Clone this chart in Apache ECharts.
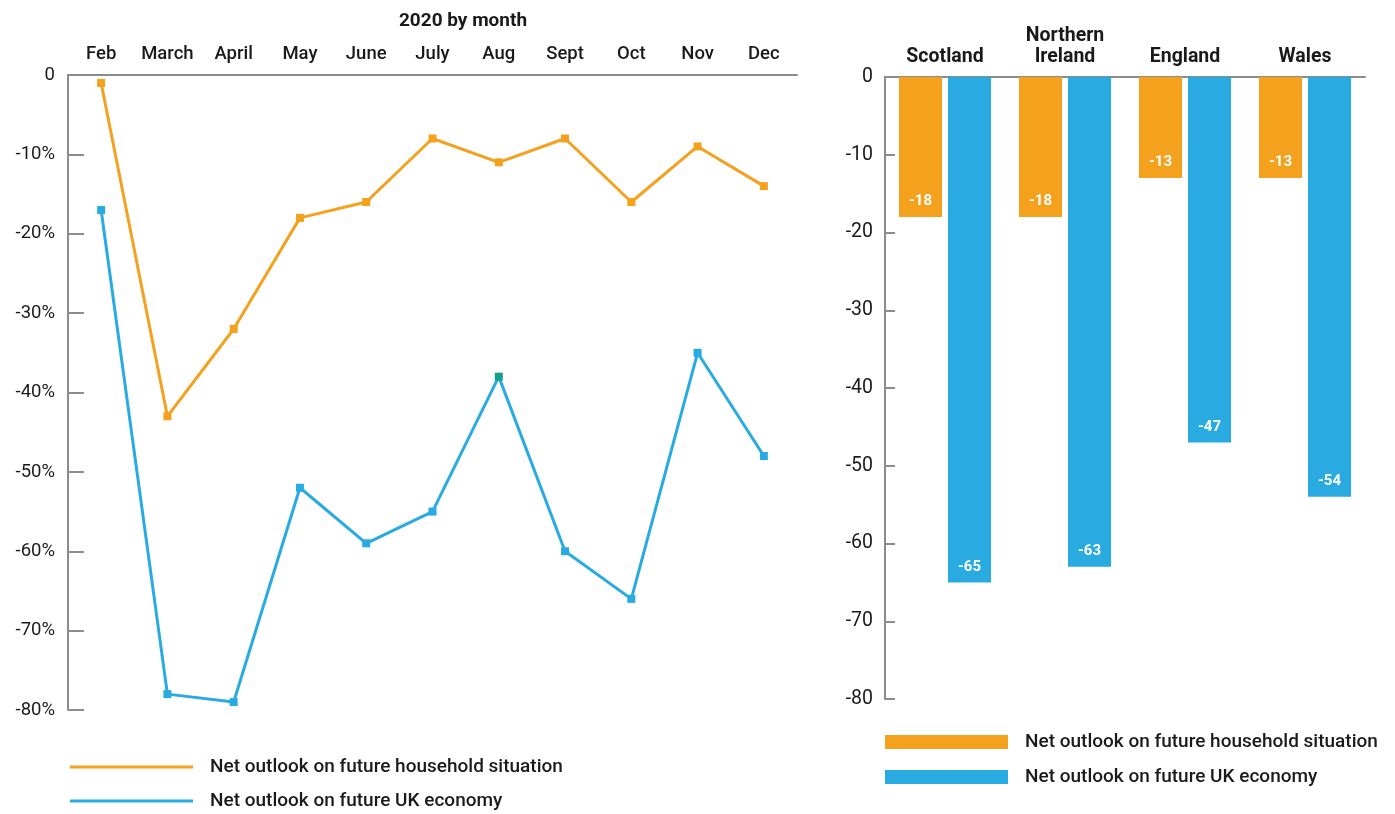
<!DOCTYPE html>
<html><head><meta charset="utf-8">
<script src="https://cdn.jsdelivr.net/npm/echarts@6/dist/echarts.min.js"></script>
<style>html,body{margin:0;padding:0;background:#fff}#c{width:1395px;height:814px}</style>
</head><body><div id="c"></div>
<script>
const months = ['Feb','March','April','May','June','July','Aug','Sept','Oct','Nov','Dec'];
const household = [-1,-43,-32,-18,-16,-8,-11,-8,-16,-9,-14];
const economy = [-17,-78,-79,-52,-59,-55,-38,-60,-66,-35,-48];
const nations = ['Scotland','Northern\nIreland','England','Wales'];
const nationHousehold = [-18,-18,-13,-13];
const nationEconomy = [-65,-63,-47,-54];
const legendNames = {
  hhLine:'Net outlook on future household situation', ecLine:'Net outlook on future UK economy',
  hhBar:'Net outlook on future household situation', ecBar:'Net outlook on future UK economy'
};
const ORANGE = '#f4a11e', BLUE = '#29abe2', AXIS = '#8c8c8c', TXT = '#1a1a1a';
const FONT = 'Roboto';

const chart = echarts.init(document.getElementById('c'));
chart.setOption({
  animation:false,
  textStyle:{fontFamily:FONT},
  title:{text:'2020 by month', left:458, top:7, textAlign:'center',
    textStyle:{fontFamily:FONT,fontSize:19,fontWeight:'bold',color:TXT}},
  grid:[
    {left:68, top:75, width:729, height:635},
    {left:885, top:77, width:480, height:622}
  ],
  xAxis:[
    {gridIndex:0, type:'category', position:'top', data:months, boundaryGap:true,
     axisLine:{lineStyle:{color:AXIS,width:2}},
     axisTick:{inside:true,length:15,interval:0,lineStyle:{color:AXIS,width:2}},
     axisLabel:{interval:0,margin:11,fontSize:18.5,fontWeight:500,color:TXT,fontFamily:FONT}},
    {gridIndex:1, type:'category', position:'top', data:nations,
     axisLine:{lineStyle:{color:AXIS,width:2}}, axisTick:{show:false},
     axisLabel:{interval:0,margin:9,fontSize:19.5,fontWeight:'bold',color:TXT,lineHeight:21,fontFamily:FONT}}
  ],
  yAxis:[
    {gridIndex:0, type:'value', min:-80, max:0, interval:10,
     axisLine:{show:true,lineStyle:{color:AXIS,width:2}},
     axisTick:{show:true,inside:true,length:16,lineStyle:{color:AXIS,width:2}},
     splitLine:{show:false},
     axisLabel:{margin:13,fontSize:18.5,color:TXT,fontFamily:FONT,
       formatter:v=>v===0?'0':v+'%'}},
    {gridIndex:1, type:'value', min:-80, max:0, interval:10,
     axisLine:{show:true,lineStyle:{color:AXIS,width:2}},
     axisTick:{show:true,inside:true,length:10,lineStyle:{color:AXIS,width:2}},
     splitLine:{show:false},
     axisLabel:{margin:12,fontSize:19.5,color:TXT,fontFamily:FONT}}
  ],
  legend:[
    {data:['hhLine','ecLine'], orient:'vertical', left:70, top:756, itemGap:12, padding:0,
     icon:'rect', itemWidth:123, itemHeight:3,
     formatter:n=>legendNames[n],
     textStyle:{fontSize:19,fontWeight:500,color:TXT,fontFamily:FONT,padding:[0,0,0,12],height:22,lineHeight:22}},
    {data:['hhBar','ecBar'], orient:'vertical', left:885, top:731, itemGap:13, padding:0,
     icon:'rect', itemWidth:123, itemHeight:14,
     formatter:n=>legendNames[n],
     textStyle:{fontSize:19,fontWeight:500,color:TXT,fontFamily:FONT,padding:[0,0,0,12],height:22,lineHeight:22}}
  ],
  series:[
    {name:'hhLine', type:'line', xAxisIndex:0, yAxisIndex:0, data:household,
     symbol:'rect', symbolSize:8, lineStyle:{color:ORANGE,width:3}, itemStyle:{color:ORANGE}},
    {name:'ecLine', type:'line', xAxisIndex:0, yAxisIndex:0,
     data:economy.map((v,i)=>months[i]==='Aug'?{value:v,itemStyle:{color:'#17a08a'}}:v),
     symbol:'rect', symbolSize:8, lineStyle:{color:BLUE,width:3}, itemStyle:{color:BLUE}},
    {name:'hhBar', type:'bar', xAxisIndex:1, yAxisIndex:1, data:nationHousehold,
     barWidth:43, barGap:'14%', itemStyle:{color:ORANGE},
     label:{show:true,position:'insideBottom',distance:8,color:'#fff',fontWeight:'bold',fontSize:15,fontFamily:FONT}},
    {name:'ecBar', type:'bar', xAxisIndex:1, yAxisIndex:1, data:nationEconomy,
     barWidth:43, barGap:'14%', itemStyle:{color:BLUE},
     label:{show:true,position:'insideBottom',distance:8,color:'#fff',fontWeight:'bold',fontSize:15,fontFamily:FONT}}
  ]
});
</script></body></html>
